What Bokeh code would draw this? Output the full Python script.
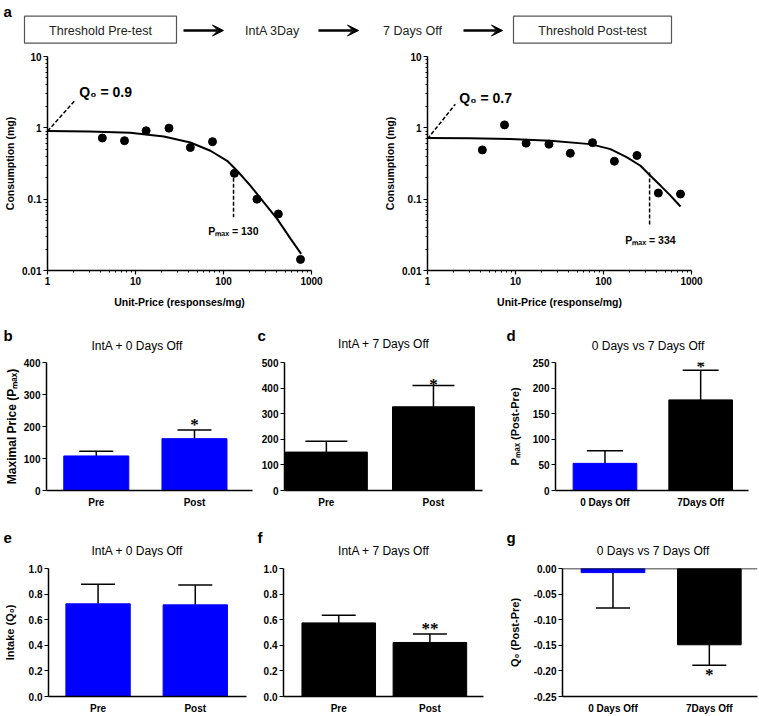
from bokeh.plotting import figure
from bokeh.layouts import column, row
from bokeh.models import (Range1d, FixedTicker, CustomJSTickFormatter, PrintfTickFormatter,
                          Label, LabelSet, Arrow, VeeHead, Whisker, TeeHead, ColumnDataSource, Span)
from bokeh.embed import file_html
from bokeh.resources import INLINE
from bokeh.core.properties import value

FONT = "Liberation Sans"

# ------------------------------------------------------------------ data
flow_steps = ["Threshold Pre-test", "IntA 3Day", "7 Days Off", "Threshold Post-test"]
flow_boxed = [True, False, False, True]

unit_price = [4.2, 7.5, 13.2, 24, 42, 75, 133, 240, 420, 750]
consumption_pre = [0.72, 0.66, 0.91, 0.99, 0.53, 0.64, 0.23, 0.10, 0.062, 0.0143]
consumption_post = [0.49, 1.10, 0.61, 0.59, 0.44, 0.62, 0.34, 0.41, 0.122, 0.118]

fit_price_pre = [1, 3, 8.7, 21, 42, 71, 110, 143, 202, 287, 407, 577, 763]
fit_cons_pre = [0.90, 0.89, 0.85, 0.755, 0.623, 0.477, 0.345, 0.25, 0.155, 0.090, 0.053, 0.028, 0.0171]
fit_price_post = [1, 3, 8.7, 25, 71, 120, 185, 263, 341, 444, 577, 750]
fit_cons_post = [0.72, 0.715, 0.695, 0.658, 0.591, 0.503, 0.385, 0.294, 0.213, 0.155, 0.112, 0.079]

q0_pre, q0_post = 0.9, 0.7
pmax_pre, pmax_post = 130, 334

log_x_ticks = [1, 10, 100, 1000]
log_y_ticks = [0.01, 0.1, 1, 10]

groups_prepost = ["Pre", "Post"]
groups_days = ["0 Days Off", "7Days Off"]

panel_letters_mid = ["b", "c", "d"]
panel_titles_mid = ["IntA + 0 Days Off", "IntA + 7 Days Off", "0 Days vs 7 Days Off"]
panel_letters_low = ["e", "f", "g"]
panel_titles_low = ["IntA + 0 Days Off", "IntA + 7 Days Off", "0 Days vs 7 Days Off"]

pmax_0d_mean, pmax_0d_sem, sig_b = [108, 162], [15, 27], ["", "*"]
pmax_7d_mean, pmax_7d_sem, sig_c = [150, 327], [42, 83], ["", "*"]
pmax_diff_mean, pmax_diff_sem, sig_d = [53, 177], [24.5, 58], ["", "*"]
q0_0d_mean, q0_0d_sem, sig_e = [0.724, 0.716], [0.153, 0.156], ["", ""]
q0_7d_mean, q0_7d_sem, sig_f = [0.575, 0.422], [0.059, 0.066], ["", "**"]
q0_diff_mean, q0_diff_sem, sig_g = [-0.008, -0.149], [0.069, 0.040], ["", "*"]

ticks_b = [0, 100, 200, 300, 400]
ticks_c = [0, 100, 200, 300, 400, 500]
ticks_d = [0, 50, 100, 150, 200, 250]
ticks_ef = [0.0, 0.2, 0.4, 0.6, 0.8, 1.0]
ticks_g = [0.0, -0.05, -0.10, -0.15, -0.20, -0.25]

BLUE = "#0000FF"
BLACK = "#000000"
W = 759


# ------------------------------------------------------------------ helpers
def base_fig(width, height, bl, br, bt, bb, **kw):
    p = figure(width=width, height=height, output_backend="svg", toolbar_location=None,
               min_border_left=bl, min_border_right=br, min_border_top=bt, min_border_bottom=bb, **kw)
    p.outline_line_color = None
    p.grid.visible = False
    p.background_fill_color = "white"
    p.border_fill_color = "white"
    return p


def strip_fig(y0, y1):
    # a blank full-width strip whose data coordinates equal page pixels
    s = figure(width=W, height=y1 - y0, x_range=Range1d(0, W), y_range=Range1d(y1, y0),
               output_backend="svg", toolbar_location=None, x_axis_location=None,
               y_axis_location=None, min_border=0)
    s.outline_line_color = None
    s.grid.visible = False
    return s


def style_axis(ax, tick_out=4, size="10px", standoff=2):
    ax.axis_line_color = "black"
    ax.axis_line_width = 1.5
    ax.major_tick_line_color = "black"
    ax.major_tick_line_width = 1.2
    ax.major_tick_in = 0
    ax.major_tick_out = tick_out
    ax.minor_tick_line_color = None
    ax.major_label_text_font = FONT
    ax.major_label_text_font_style = "bold"
    ax.major_label_text_font_size = size
    ax.major_label_text_color = "black"
    ax.major_label_standoff = standoff
    ax.axis_label_text_font = FONT
    ax.axis_label_text_font_style = "bold"
    ax.axis_label_text_color = "black"


# ------------------------------------------------------------------ header (flow diagram)
hdr = strip_fig(0, 48)
flow_x = [100, 272, 412, 592]
box_w = [152, 0, 0, 158]
bx = [x for x, b in zip(flow_x, flow_boxed) if b]
bw = [w for w, b in zip(box_w, flow_boxed) if b]
hdr.rect(x=bx, y=[29.2] * len(bx), width=bw, height=[27] * len(bx),
         fill_color=None, line_color="#555555", line_width=1.2)
hdr.text(x=flow_x, y=[30] * len(flow_x), text=flow_steps, text_font=value(FONT),
         text_font_size="12.5px", text_align="center", text_baseline="middle", text_color="#222222")
for xs, xe in [(183, 223), (318, 358), (463, 502)]:
    hdr.add_layout(Arrow(end=VeeHead(size=11, fill_color="black", line_color="black", line_width=1),
                         x_start=xs, y_start=30, x_end=xe, y_end=30, line_width=2.5, line_color="black"))
hdr.text(x=[3], y=[2], text=["a"], text_font=value(FONT), text_font_size="15px",
         text_font_style="bold", text_baseline="top", text_color="black")


# ------------------------------------------------------------------ demand panels (a)
def demand_panel(width, bl, br, prices, cons, fx, fy, q0, q0_tip, q0_lab, pmax, pmax_y, pmax_lab,
                 xlabel, ylab_standoff):
    p = base_fig(width, 270, bl, br, 8, 48, x_axis_type="log", y_axis_type="log",
                 x_range=Range1d(1, 1000), y_range=Range1d(0.01, 10))
    p.line(fx, fy, line_color="black", line_width=2)
    p.scatter(prices, cons, size=8, color="black")
    p.line([1, q0_tip[0]], [q0, q0_tip[1]], line_dash="4 2", line_width=1.5, line_color="black")
    p.line([pmax, pmax], list(pmax_y), line_dash="4 2", line_width=1.5, line_color="black")
    p.add_layout(Label(x=q0_lab[0], y=q0_lab[1], text=f"Q\u2080 = {q0}", text_font=FONT,
                       text_font_size="14px", text_font_style="bold", text_baseline="middle",
                       text_color="black"))
    p.add_layout(Label(x=pmax_lab[0], y=pmax_lab[1], text=f"P\u2098\u2090\u2093 = {pmax}", text_font=FONT,
                       text_font_size="10.5px", text_font_style="bold", text_baseline="middle",
                       text_color="black"))
    minor_x = [k * 10 ** e for e in range(0, 3) for k in range(2, 10)]
    minor_y = [k * 10 ** e for e in range(-2, 1) for k in range(2, 10)]
    fmt = "return String(Number(tick.toPrecision(3)));"
    for ax, ticks, minor in [(p.xaxis[0], log_x_ticks, minor_x), (p.yaxis[0], log_y_ticks, minor_y)]:
        style_axis(ax, tick_out=4)
        ax.ticker = FixedTicker(ticks=ticks, minor_ticks=minor)
        ax.formatter = CustomJSTickFormatter(code=fmt)
        ax.minor_tick_line_color = "black"
        ax.minor_tick_in = 0
        ax.minor_tick_out = 2
    p.xaxis.axis_label = xlabel
    p.xaxis.axis_label_text_font_size = "10.5px"
    p.xaxis.axis_label_standoff = 8
    p.yaxis.axis_label = "Consumption (mg)"
    p.yaxis.axis_label_text_font_size = "10.5px"
    p.yaxis.axis_label_standoff = ylab_standoff
    return p


pa1 = demand_panel(380, 47, 69, unit_price, consumption_pre, fit_price_pre, fit_cons_pre,
                   q0_pre, (2.07, 2.44), (2.3, 3.22), pmax_pre, (0.2, 0.056), (67, 0.036),
                   "Unit-Price (responses/mg)", 3)
pa2 = demand_panel(379, 47, 68, unit_price, consumption_post, fit_price_post, fit_cons_post,
                   q0_post, (2.07, 2.14), (2.3, 2.63), pmax_post, (0.237, 0.0426), (177, 0.0272),
                   "Unit-Price (response/mg)", 3)


# ------------------------------------------------------------------ strips with panel letters + titles
def title_strip(y0, y1, letters, letter_xy, titles, title_xy):
    s = strip_fig(y0, y1)
    s.text(x=[p[0] for p in letter_xy], y=[p[1] for p in letter_xy], text=letters,
           text_font=value(FONT), text_font_size="15px", text_font_style="bold",
           text_align="left", text_baseline="middle", text_color="black")
    s.text(x=[p[0] for p in title_xy], y=[p[1] for p in title_xy], text=titles,
           text_font=value(FONT), text_font_size="12px", text_align="center",
           text_baseline="middle", text_color="black")
    return s


strip_mid = title_strip(318, 353, panel_letters_mid, [(3, 335), (257, 335), (506, 335)],
                        panel_titles_mid, [(136.7, 345.5), (383.3, 343), (647.5, 345.5)])
strip_low = title_strip(510, 557, panel_letters_low, [(3, 537), (257, 537), (506, 537)],
                        panel_titles_low, [(136.7, 550.5), (383.3, 550.5), (652.5, 550.5)])


# ------------------------------------------------------------------ bar panels
def bar_panel(width, height, bl, fw, bt, fh, cats, means, sems, colors, ticks, fmt, yr, xr, bar_w, cap,
              sig, sig_off, ylabel=None, ylabel_size="11px", ylabel_standoff=2, negative=False):
    bb = height - bt - fh
    br = width - bl - fw
    p = base_fig(width, height, bl, br, bt, bb, x_range=Range1d(*xr), y_range=Range1d(*yr))
    xs = list(range(1, len(cats) + 1))
    p.vbar(x=xs, top=means, bottom=0, width=bar_w, fill_color=colors, line_color=colors)
    if negative:
        ends = [m - s for m, s in zip(means, sems)]
        src = ColumnDataSource(dict(x=xs, lo=ends, hi=means))
        p.add_layout(Whisker(base="x", lower="lo", upper="hi", source=src, line_width=1.5,
                             line_color="black", upper_head=None,
                             lower_head=TeeHead(size=cap, line_width=1.5, line_color="black")))
    else:
        ends = [m + s for m, s in zip(means, sems)]
        src = ColumnDataSource(dict(x=xs, lo=means, hi=ends))
        p.add_layout(Whisker(base="x", lower="lo", upper="hi", source=src, line_width=1.5,
                             line_color="black", lower_head=None,
                             upper_head=TeeHead(size=cap, line_width=1.5, line_color="black")))
    ssrc = ColumnDataSource(dict(x=xs, y=ends, t=sig))
    p.add_layout(LabelSet(x="x", y="y", text="t", source=ssrc, y_offset=sig_off,
                          text_font=FONT, text_font_size="17px", text_font_style="bold",
                          text_align="center", text_baseline="alphabetic", text_color="black"))
    if negative:
        p.add_layout(Span(location=0, dimension="width", line_color="black", line_width=1.5))
    style_axis(p.xaxis[0], tick_out=0, standoff=6)
    p.xaxis.ticker = FixedTicker(ticks=xs)
    p.xaxis.major_label_overrides = {x: c for x, c in zip(xs, cats)}
    style_axis(p.yaxis[0], tick_out=4, standoff=2)
    p.yaxis.ticker = FixedTicker(ticks=ticks)
    p.yaxis.formatter = PrintfTickFormatter(format=fmt)
    if ylabel:
        p.yaxis.axis_label = ylabel
        p.yaxis.axis_label_text_font_size = ylabel_size
        p.yaxis.axis_label_standoff = ylabel_standoff
    return p


pb = bar_panel(255, 157, 46, 206, 8, 132, groups_prepost, pmax_0d_mean, pmax_0d_sem, [BLUE, BLUE],
               ticks_b, "%d", (0, 400), (0.493, 2.591), 0.662, 34, sig_b, 0,
               ylabel="Maximal Price (P\u2098\u2090\u2093)", ylabel_size="12px", ylabel_standoff=2)
pc = bar_panel(250, 157, 29, 198, 9, 130, groups_prepost, pmax_7d_mean, pmax_7d_sem, [BLACK, BLACK],
               ticks_c, "%d", (0, 500), (0.609, 2.458), 0.765, 42, sig_c, -4)
pd = bar_panel(254, 157, 44, 199, 8, 131, groups_days, pmax_diff_mean, pmax_diff_sem, [BLUE, BLACK],
               ticks_d, "%d", (0, 250), (0.483, 2.5), 0.665, 36, sig_d, -2,
               ylabel="P\u2098\u2090\u2093 (Post-Pre)", ylabel_standoff=9)

pe = bar_panel(255, 159, 46, 200, 6, 133, groups_prepost, q0_0d_mean, q0_0d_sem, [BLUE, BLUE],
               ticks_ef, "%.1f", (0, 1.0), (0.490, 2.527), 0.662, 34, sig_e, 0,
               ylabel="Intake (Q\u2080)", ylabel_standoff=10)
pf = bar_panel(250, 159, 28, 200, 11, 130, groups_prepost, q0_7d_mean, q0_7d_sem, [BLACK, BLACK],
               ticks_ef, "%.1f", (0, 1.0), (0.394, 2.588), 0.807, 34, sig_f, 0)
pg = bar_panel(254, 159, 53, 199, 10, 132, groups_days, q0_diff_mean, q0_diff_sem, [BLUE, BLACK],
               ticks_g, "%.2f", (-0.25, 0), (0.476, 2.5), 0.661, 34, sig_g, -15,
               ylabel="Q\u2080 (Post-Pre)", ylabel_standoff=10, negative=True)

layout = column(hdr, row(pa1, pa2), strip_mid, row(pb, pc, pd), strip_low, row(pe, pf, pg))

with open("out.html", "w") as f:
    f.write(file_html(layout, INLINE))
